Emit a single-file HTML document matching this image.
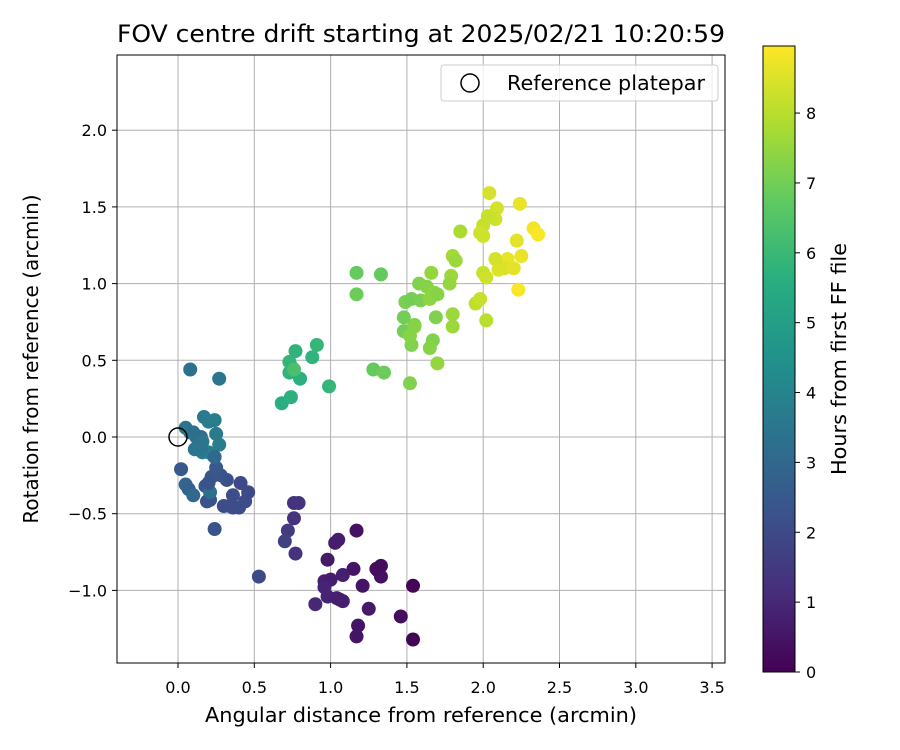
<!DOCTYPE html>
<html><head><meta charset="utf-8">
<style>
body{margin:0;background:#fff;}
svg{display:block;font-family:"DejaVu Sans","Liberation Sans",sans-serif;}
</style></head>
<body>
<svg id="chart" width="900" height="750" xmlns="http://www.w3.org/2000/svg">
<rect width="900" height="750" fill="#fff"/>
<g id="grid"></g>
<g id="points"></g>
<circle cx="178" cy="437" r="9" fill="none" stroke="#000" stroke-width="1.5"/>
<rect x="117" y="55" width="608" height="608" fill="none" stroke="#000" stroke-width="1"/>
<g id="xticks"></g><g id="yticks"></g>
<g>
<rect x="441" y="65" width="277" height="36" rx="3" fill="#fff" fill-opacity="0.8" stroke="#ccc"/>
<circle cx="470" cy="83" r="9" fill="none" stroke="#000" stroke-width="1.5"/>
<text x="507" y="90" font-size="20" textLength="198" lengthAdjust="spacingAndGlyphs">Reference platepar</text>
</g>
<text x="421" y="42" font-size="24" text-anchor="middle" textLength="608" lengthAdjust="spacingAndGlyphs">FOV centre drift starting at 2025/02/21 10:20:59</text>
<text x="421" y="722" font-size="20" text-anchor="middle" textLength="432" lengthAdjust="spacingAndGlyphs">Angular distance from reference (arcmin)</text>
<text transform="translate(38,359) rotate(-90)" font-size="20" text-anchor="middle">Rotation from reference (arcmin)</text>
<defs><linearGradient id="vir" x1="0" y1="1" x2="0" y2="0">
<stop offset="0" stop-color="#440154"/><stop offset="0.125" stop-color="#472d7b"/><stop offset="0.25" stop-color="#3b528b"/><stop offset="0.375" stop-color="#2c728e"/><stop offset="0.5" stop-color="#21918c"/><stop offset="0.625" stop-color="#28ae80"/><stop offset="0.75" stop-color="#5ec962"/><stop offset="0.875" stop-color="#addc30"/><stop offset="1" stop-color="#fde725"/></linearGradient></defs>
<rect x="763" y="46" width="32" height="626" fill="url(#vir)" stroke="#000"/>
<g id="cticks"></g>
<text transform="translate(846,359) rotate(-90)" font-size="20" text-anchor="middle" textLength="232" lengthAdjust="spacingAndGlyphs">Hours from first FF file</text>
</svg>
<script>
const xVals=[1.17,0.98,1.05,1.03,0.96,1.00,1.15,1.08,1.21,0.96,0.98,1.04,1.08,0.90,1.25,1.31,1.33,1.33,1.54,1.46,1.18,1.17,1.54,1.30,1.06,
0.79,0.76,0.76,0.72,0.70,0.77,0.53,
0.24,0.02,0.05,0.07,0.10,0.19,0.21,0.30,0.34,0.36,0.40,0.44,0.46,0.41,0.36,0.32,0.28,0.25,0.22,0.18,0.21,0.20,
0.08,0.27,0.17,0.20,0.24,0.05,0.08,0.12,0.15,0.16,0.25,0.27,0.13,0.11,0.16,0.20,0.23,0.15,0.10,0.24,
0.68,0.74,0.73,0.73,0.77,0.80,0.88,0.91,0.99,0.75,0.76,
1.17,1.17,1.28,1.35,1.33,1.52,1.53,1.48,1.51,1.55,1.52,1.48,1.49,1.53,1.58,1.59,1.63,1.65,1.66,1.68,1.70,1.67,1.65,1.69,1.70,1.79,1.78,1.80,1.82,1.80,1.80,1.85,1.55,
2.04,2.09,2.00,1.98,2.00,2.08,2.03,2.00,2.02,1.95,1.98,2.02,2.24,2.33,2.36,2.22,2.16,2.10,2.14,2.20,2.25,2.23,2.08];
const yVals=[-0.61,-0.80,-0.67,-0.69,-0.94,-0.93,-0.86,-0.90,-0.97,-0.98,-1.04,-1.05,-1.07,-1.09,-1.12,-0.87,-0.84,-0.91,-0.97,-1.17,-1.23,-1.30,-1.32,-0.86,-1.06,
-0.43,-0.43,-0.53,-0.61,-0.68,-0.76,-0.91,
-0.60,-0.21,-0.31,-0.34,-0.38,-0.42,-0.41,-0.45,-0.45,-0.46,-0.46,-0.42,-0.36,-0.30,-0.38,-0.28,-0.25,-0.20,-0.26,-0.32,-0.36,-0.30,
0.44,0.38,0.13,0.10,0.11,0.06,0.03,0.00,0.00,-0.03,0.02,-0.05,-0.06,-0.08,-0.10,-0.10,-0.12,-0.08,0.03,-0.13,
0.22,0.26,0.42,0.49,0.56,0.38,0.52,0.60,0.33,0.45,0.44,
1.07,0.93,0.44,0.42,1.06,0.35,0.60,0.69,0.68,0.73,0.66,0.78,0.88,0.90,1.00,0.89,0.98,0.90,1.07,0.94,0.93,0.63,0.58,0.78,0.48,1.05,1.00,1.18,1.15,0.80,0.72,1.34,0.72,
1.59,1.49,1.38,1.33,1.31,1.42,1.44,1.07,1.04,0.87,0.90,0.76,1.52,1.36,1.32,1.28,1.16,1.09,1.10,1.10,1.18,0.96,1.16];
const hours=[0.4,0.6,0.7,0.7,0.8,0.7,0.5,0.8,0.5,0.9,0.9,0.8,0.8,1.0,0.6,0.3,0.3,0.4,0.1,0.3,0.5,0.5,0.1,0.3,0.8,
1.3,1.3,1.3,1.5,1.7,1.3,2.0,
2.3,2.5,2.9,2.8,3.0,2.2,2.3,2.1,2.1,2.1,2.1,2.1,2.0,2.0,2.1,2.2,2.3,2.5,2.4,2.4,3.3,2.3,
3.3,3.5,3.6,3.7,3.8,3.5,3.4,3.3,3.2,3.5,3.7,3.8,3.4,3.5,3.6,3.7,3.8,3.5,3.3,3.0,
5.6,5.7,5.8,5.9,5.8,5.7,5.8,5.9,5.9,5.8,6.3,
6.8,6.9,6.8,6.9,6.8,7.2,7.2,7.0,7.0,7.1,7.3,7.0,7.1,7.0,7.2,7.1,7.3,7.4,7.5,7.4,7.3,7.2,7.3,7.2,7.5,7.6,7.5,7.7,7.6,7.6,7.6,7.8,7.3,
8.4,8.4,8.2,8.3,8.3,8.3,8.2,8.2,8.3,8.1,8.2,8.0,8.7,8.8,8.9,8.6,8.7,8.5,8.5,8.6,8.7,8.9,8.4];
const xTicks=[0,0.5,1,1.5,2,2.5,3,3.5];
const yTicks=[-1,-0.5,0,0.5,1,1.5,2];
const cTicks=[0,1,2,3,4,5,6,7,8];
const hMax=8.96;
const sx=v=>178+v*152.6, sy=v=>437-v*153.4, sc=v=>672-v*(626/hMax);
const NS="http://www.w3.org/2000/svg";
const stops=["#440154","#472d7b","#3b528b","#2c728e","#21918c","#28ae80","#5ec962","#addc30","#fde725"];
function hex(c){return [1,3,5].map(i=>parseInt(c.substr(i,2),16));}
function vir(h){let t=Math.max(0,Math.min(1,h/hMax))*8;let i=Math.min(7,Math.floor(t));let f=t-i;let a=hex(stops[i]),b=hex(stops[i+1]);return "rgb("+a.map((v,k)=>Math.round(v+(b[k]-v)*f)).join(",")+")";}
function mk(tag,attrs,parent){const e=document.createElementNS(NS,tag);for(const k in attrs)e.setAttribute(k,attrs[k]);parent.appendChild(e);return e;}
const grid=document.getElementById('grid'),xt=document.getElementById('xticks'),yt=document.getElementById('yticks'),ct=document.getElementById('cticks'),pts=document.getElementById('points');
xTicks.forEach(v=>{const x=sx(v);
const g=mk('line',{x1:x,x2:x,y1:55,y2:663,stroke:'#b0b0b0','stroke-width':1},grid);


mk('line',{x1:x,x2:x,y1:663,y2:668,stroke:'#000'},xt);
const t=mk('text',{x:x,y:693,'font-size':16,'text-anchor':'middle'},xt);t.textContent=v.toFixed(1);

});
yTicks.forEach(v=>{const y=sy(v);
const g=mk('line',{x1:117,x2:725,y1:y,y2:y,stroke:'#b0b0b0','stroke-width':1},grid);


mk('line',{x1:112,x2:117,y1:y,y2:y,stroke:'#000'},yt);
const t=mk('text',{x:107,y:y+6,'font-size':16,'text-anchor':'end'},yt);t.textContent=(v<0?'\u2212':'')+Math.abs(v).toFixed(1);

});
cTicks.forEach(v=>{const y=sc(v);
mk('line',{x1:795,x2:800,y1:y,y2:y,stroke:'#000'},ct);
const t=mk('text',{x:806,y:y+6,'font-size':16},ct);t.textContent=v;

});
xVals.forEach((v,i)=>{const c=mk('circle',{cx:sx(v),cy:sy(yVals[i]),r:7,fill:vir(hours[i])},pts);

});
</script>
</body></html>
